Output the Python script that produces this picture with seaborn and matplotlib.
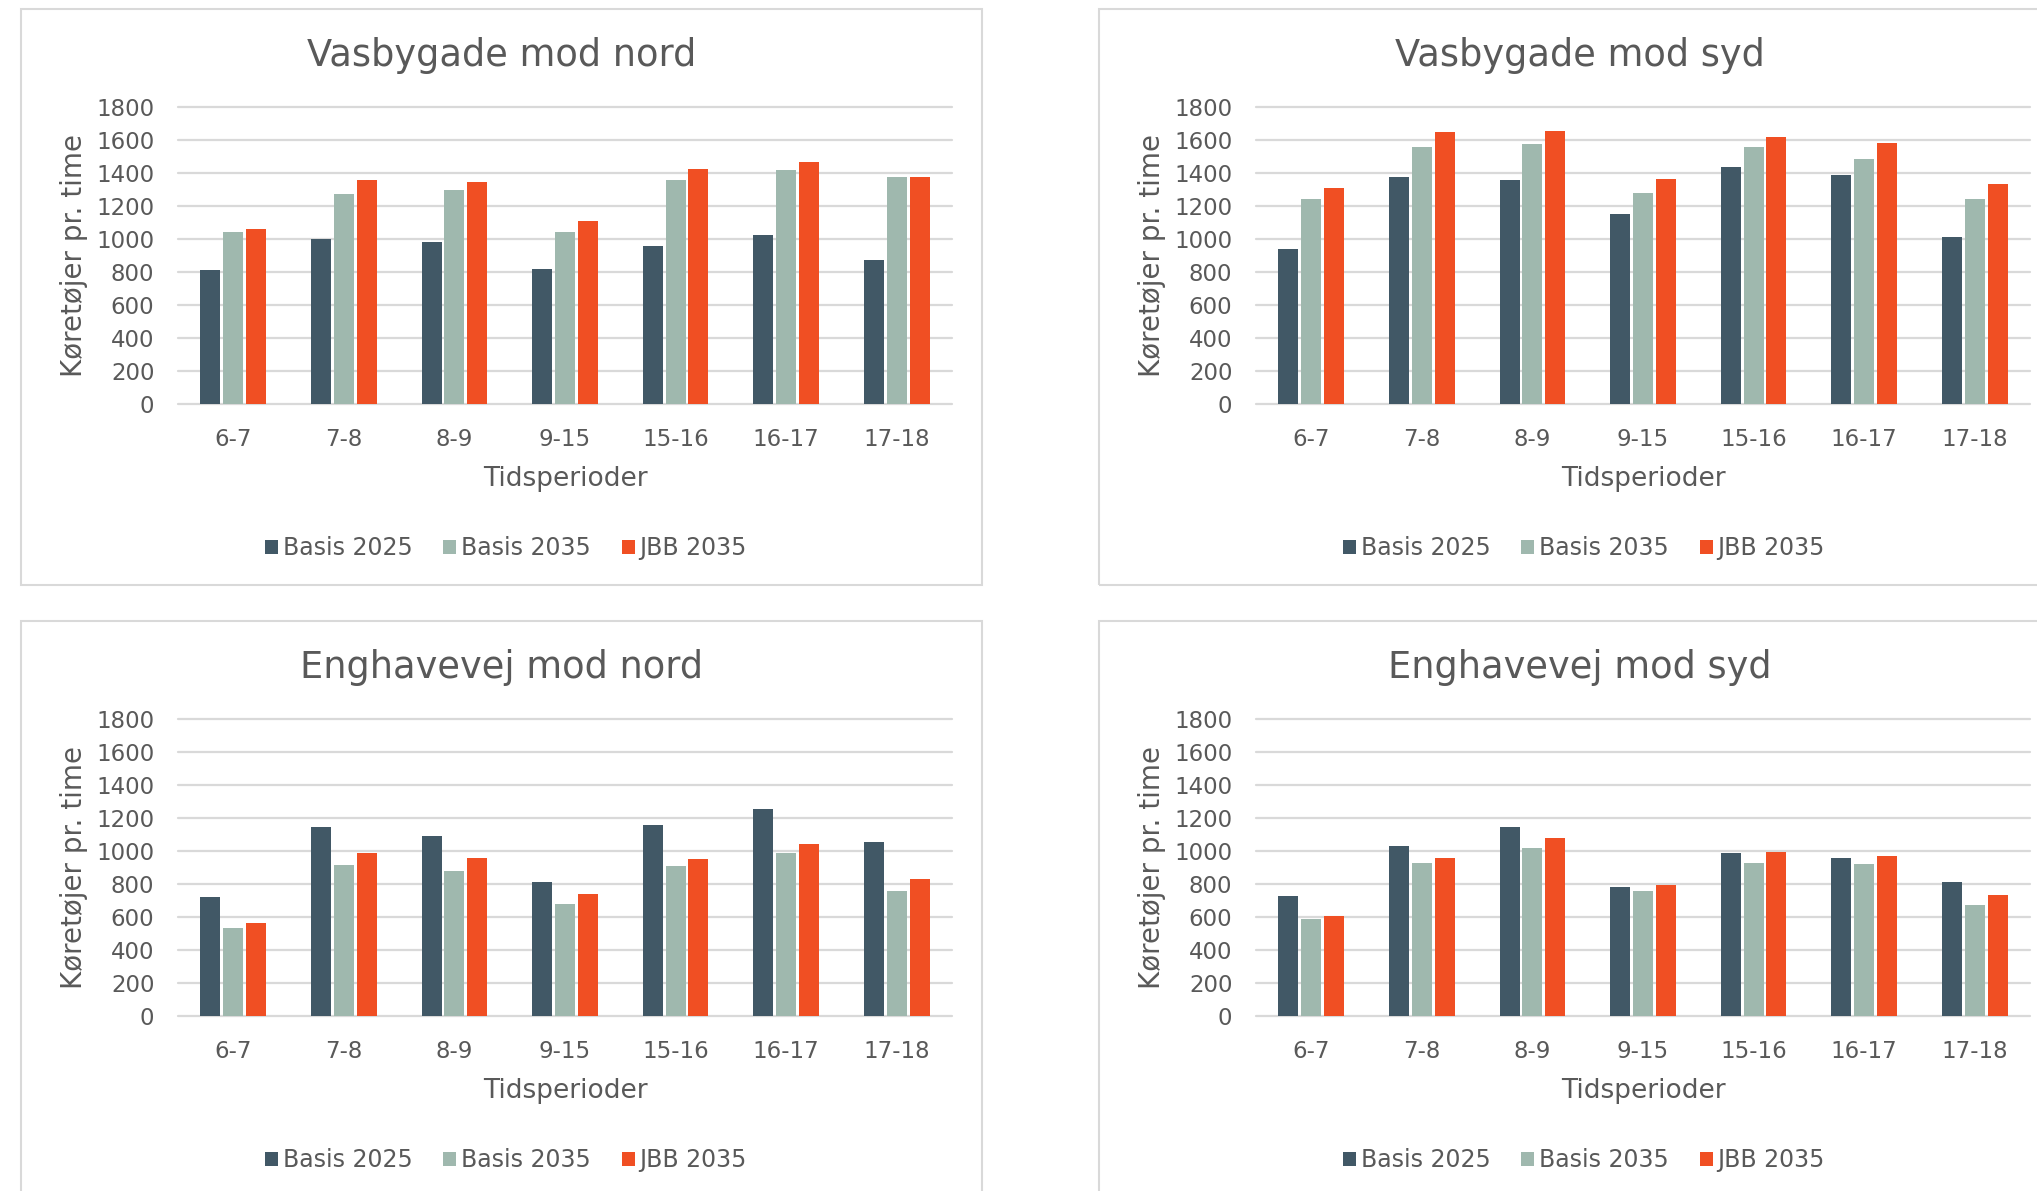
import numpy as np
import pandas as pd
import matplotlib
matplotlib.use("Agg")
import matplotlib.pyplot as plt
import seaborn as sns
from matplotlib.patches import Rectangle

# ---------------- data ----------------
periods = ["6-7", "7-8", "8-9", "9-15", "15-16", "16-17", "17-18"]
series_names = ["Basis 2025", "Basis 2035", "JBB 2035"]

vas_nord_basis2025 = [810, 1000, 980, 820, 960, 1025, 870]
vas_nord_basis2035 = [1040, 1270, 1295, 1040, 1360, 1420, 1375]
vas_nord_jbb2035 = [1060, 1355, 1345, 1110, 1425, 1465, 1375]

vas_syd_basis2025 = [940, 1375, 1360, 1150, 1435, 1385, 1015]
vas_syd_basis2035 = [1240, 1555, 1575, 1280, 1555, 1485, 1240]
vas_syd_jbb2035 = [1310, 1650, 1655, 1365, 1620, 1580, 1335]

eng_nord_basis2025 = [720, 1145, 1090, 810, 1155, 1255, 1055]
eng_nord_basis2035 = [535, 915, 880, 680, 910, 985, 760]
eng_nord_jbb2035 = [565, 985, 955, 740, 950, 1045, 830]

eng_syd_basis2025 = [725, 1030, 1145, 780, 990, 960, 810]
eng_syd_basis2035 = [585, 925, 1020, 760, 930, 920, 670]
eng_syd_jbb2035 = [605, 960, 1080, 795, 995, 970, 735]

titles = ["Vasbygade mod nord", "Vasbygade mod syd",
          "Enghavevej mod nord", "Enghavevej mod syd"]
panel_data = [
    (vas_nord_basis2025, vas_nord_basis2035, vas_nord_jbb2035),
    (vas_syd_basis2025, vas_syd_basis2035, vas_syd_jbb2035),
    (eng_nord_basis2025, eng_nord_basis2035, eng_nord_jbb2035),
    (eng_syd_basis2025, eng_syd_basis2035, eng_syd_jbb2035),
]
y_ticks = [0, 200, 400, 600, 800, 1000, 1200, 1400, 1600, 1800]
x_label = "Tidsperioder"
y_label = "Køretøjer pr. time"

colors = ["#415866", "#9FB8AE", "#F04F23"]
text_color = "#595959"
grid_color = "#D9D9D9"

# ---------------- figure ----------------
sns.set_theme(style="white")
plt.rcParams["font.family"] = ["DejaVu Sans"]
W, H = 2037, 1191
fig = plt.figure(figsize=(W / 100, H / 100), dpi=100)
fig.patch.set_facecolor("white")

def fx(px):
    return px / W

def fy(py):
    return 1 - py / H

dx, dy = 1078, 612
for i, (title, vals) in enumerate(zip(titles, panel_data)):
    r, c = divmod(i, 2)
    # panel frame
    bx0, by0 = 21 + c * dx, 9 + r * dy
    bw, bh = 961, 576
    fig.add_artist(Rectangle((fx(bx0), fy(by0 + bh)), bw / W, bh / H,
                             transform=fig.transFigure, fill=False,
                             ec=grid_color, lw=1.5))
    # axes
    al, at = 178 + c * dx, 107 + r * dy
    aw, ah = 774, 297
    ax = fig.add_axes([fx(al), fy(at + ah), aw / W, ah / H])

    df = pd.DataFrame({
        "Periode": periods * 3,
        "Serie": sum([[s] * len(periods) for s in series_names], []),
        "value": list(vals[0]) + list(vals[1]) + list(vals[2]),
    })
    sns.barplot(data=df, x="Periode", y="value", hue="Serie",
                order=periods, hue_order=series_names, palette=colors,
                width=0.62, gap=0.12, saturation=1, errorbar=None,
                linewidth=0, ax=ax)

    ax.set_xlim(-0.5, len(periods) - 0.5)
    ax.set_ylim(0, 1800)
    ax.set_yticks(y_ticks)
    ax.set_axisbelow(True)
    ax.yaxis.grid(True, color=grid_color, lw=1.6)
    for gl in ax.yaxis.get_gridlines():
        gl.set_clip_on(False)
    for s in ax.spines.values():
        s.set_visible(False)
    ax.tick_params(axis="both", length=0, labelsize=16.5, colors=text_color)
    ax.tick_params(axis="y", pad=17)
    ax.tick_params(axis="x", pad=17)

    ax.set_xlabel(x_label, fontsize=19, color=text_color)
    ax.xaxis.label.set_va("center")
    ax.xaxis.set_label_coords(0.5, (404 - 479) / 297)
    ax.set_ylabel(y_label, fontsize=20, color=text_color)
    ax.yaxis.label.set_va("center")
    ax.yaxis.set_label_coords((74 - 178) / 774, 0.5)

    # title centred on panel frame
    fig.text(fx(bx0 + 961 / 2), fy(55 + r * dy), title, fontsize=26.5,
             color=text_color, ha="center", va="center")

    handles, labels = ax.get_legend_handles_labels()
    ax.legend(handles, labels, loc="center",
              bbox_to_anchor=((506 - 178) / 774, (404 - 548) / 297),
              ncol=3, frameon=False, fontsize=17, labelcolor=text_color,
              handlelength=0.55, handleheight=0.55, handletextpad=0.2,
              columnspacing=1.3)

fig.savefig("out.png", dpi=100, facecolor="white")
